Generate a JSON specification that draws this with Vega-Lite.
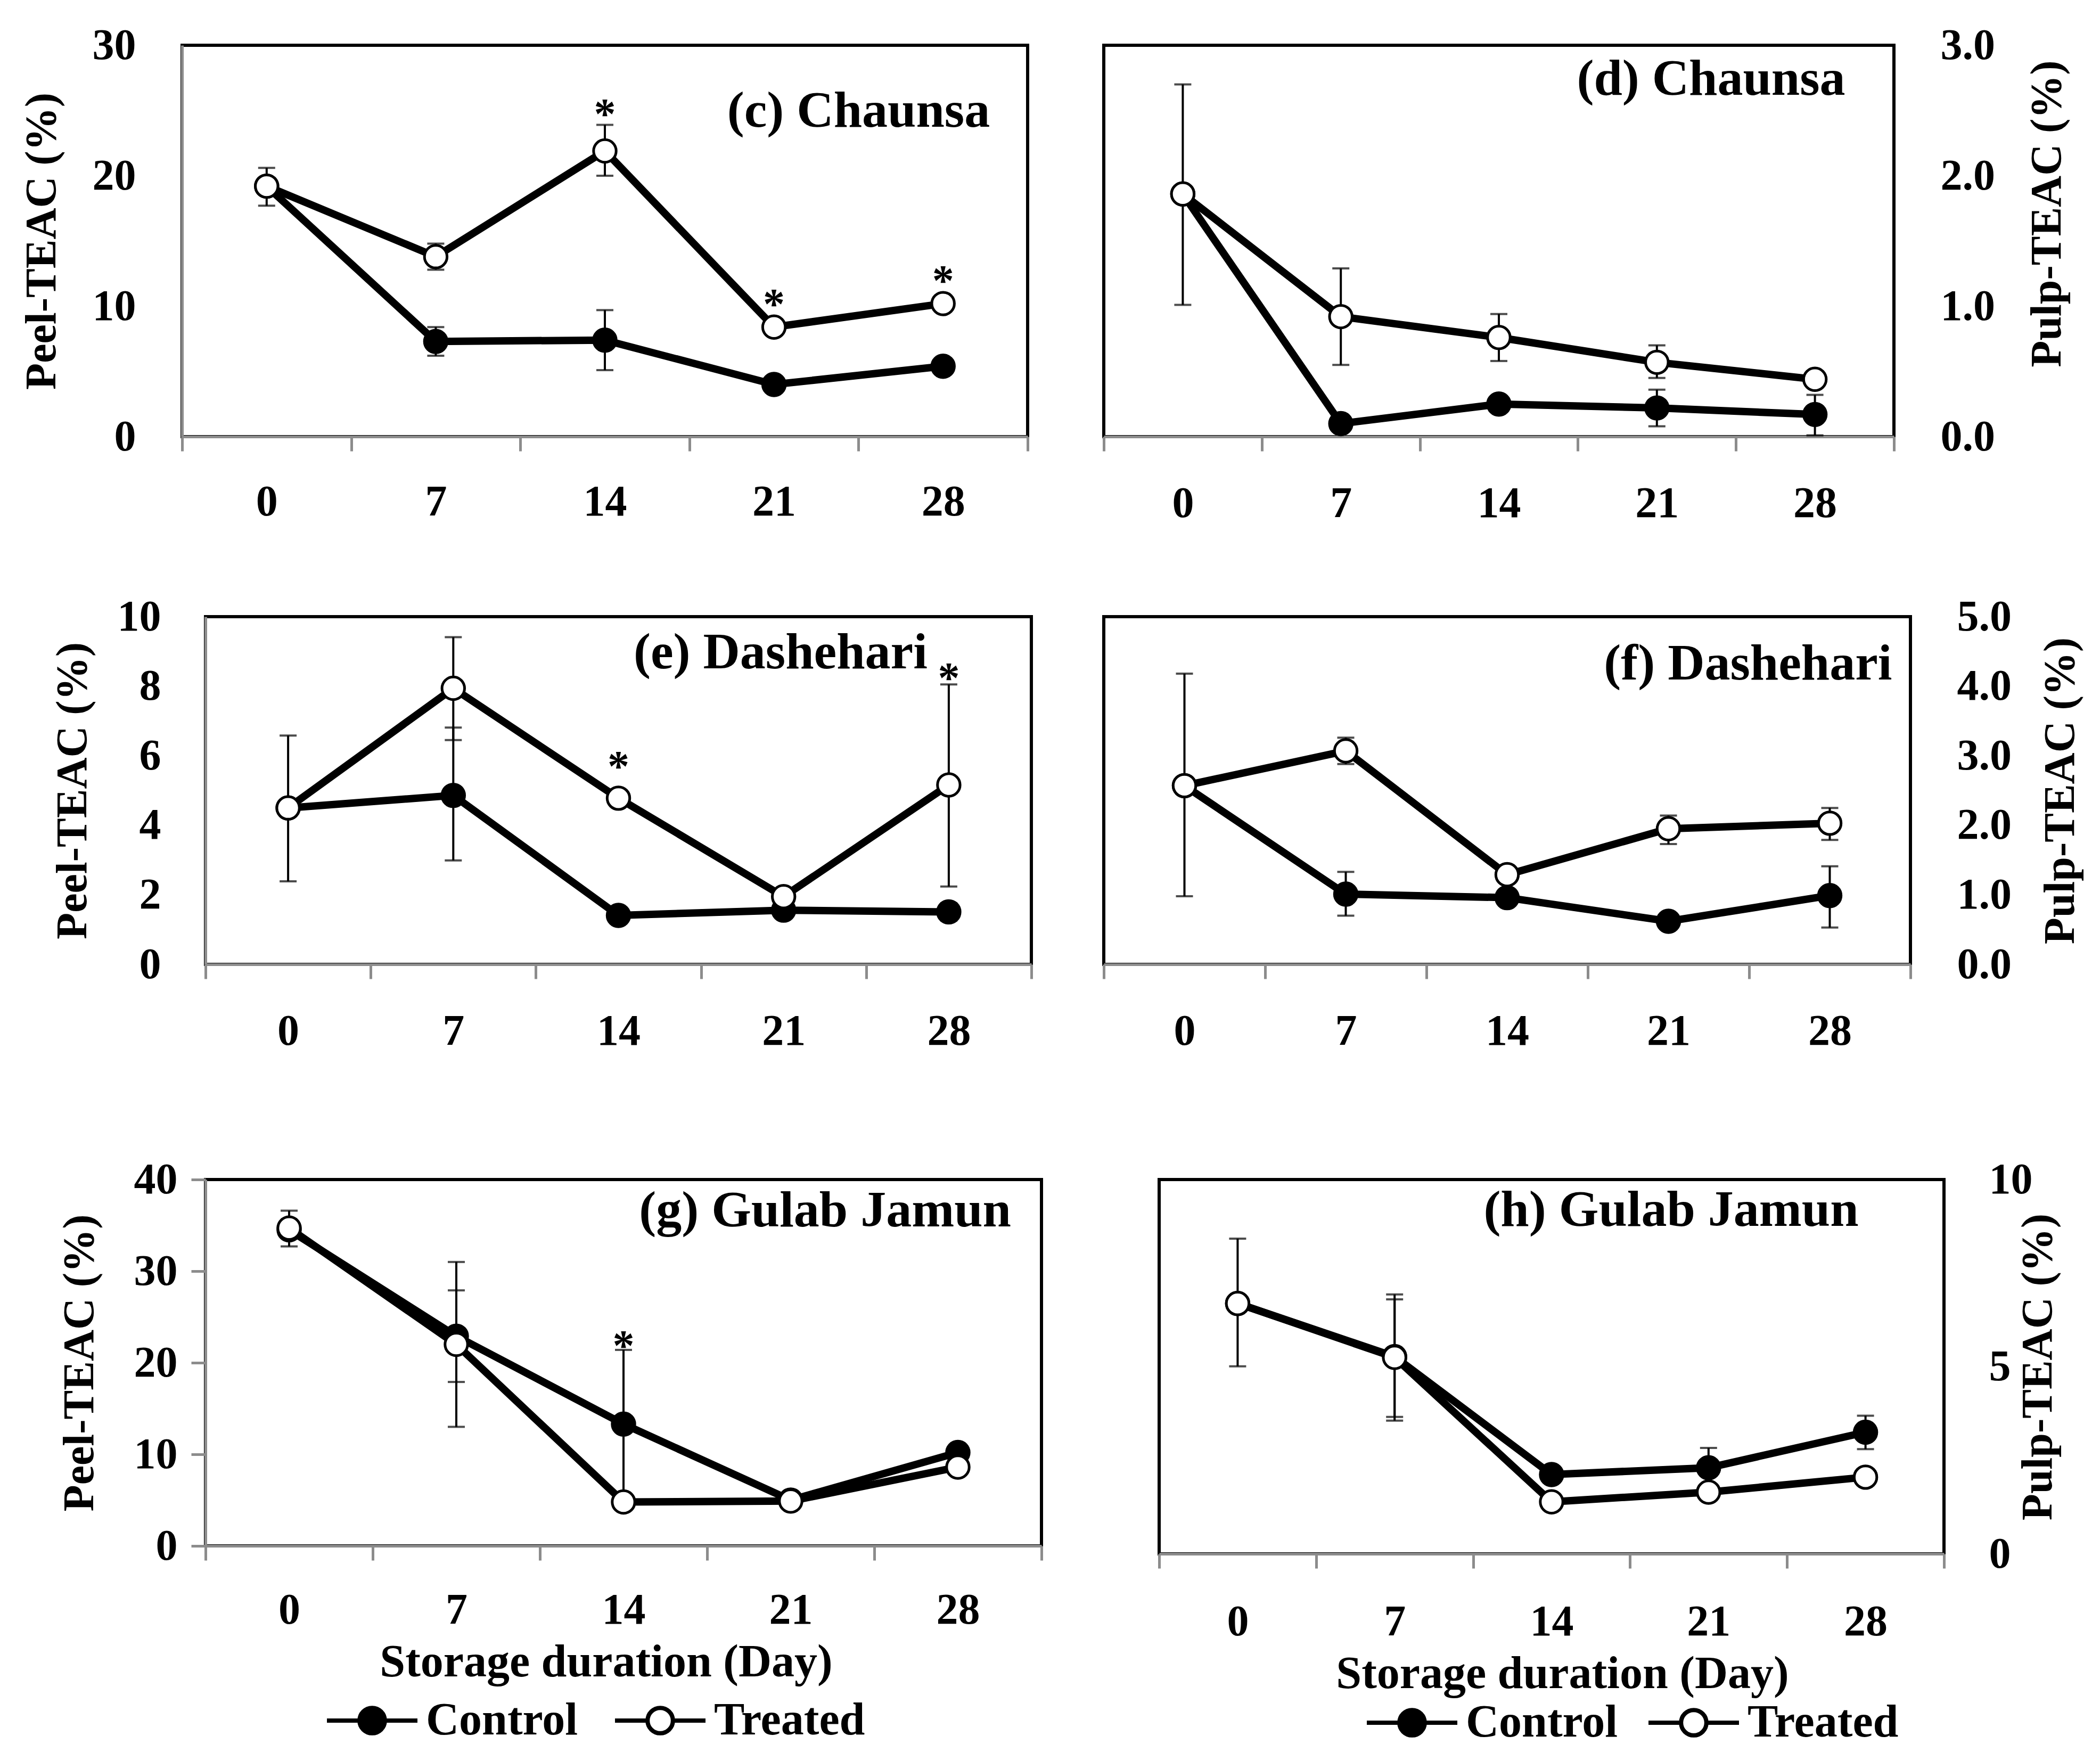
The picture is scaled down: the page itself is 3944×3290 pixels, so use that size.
{
  "$schema": "https://vega.github.io/schema/vega-lite/v6.json",
  "background": "white",
  "padding": 0,
  "datasets": {
    "teac": [
      {"panel": "c", "series": "Control", "day": 0, "v": 19.2},
      {"panel": "c", "series": "Control", "day": 7, "v": 7.3, "lo": 6.2, "hi": 8.4},
      {"panel": "c", "series": "Control", "day": 14, "v": 7.4, "lo": 5.1, "hi": 9.7},
      {"panel": "c", "series": "Control", "day": 21, "v": 4.0},
      {"panel": "c", "series": "Control", "day": 28, "v": 5.4},
      {"panel": "c", "series": "Treated", "day": 0, "v": 19.2, "lo": 17.7, "hi": 20.6},
      {"panel": "c", "series": "Treated", "day": 7, "v": 13.8, "lo": 12.8, "hi": 14.8},
      {"panel": "c", "series": "Treated", "day": 14, "v": 21.9, "lo": 20.0, "hi": 23.9},
      {"panel": "c", "series": "Treated", "day": 21, "v": 8.4},
      {"panel": "c", "series": "Treated", "day": 28, "v": 10.2},
      {"panel": "d", "series": "Control", "day": 0, "v": 1.86},
      {"panel": "d", "series": "Control", "day": 7, "v": 0.10},
      {"panel": "d", "series": "Control", "day": 14, "v": 0.25},
      {"panel": "d", "series": "Control", "day": 21, "v": 0.22, "lo": 0.08, "hi": 0.36},
      {"panel": "d", "series": "Control", "day": 28, "v": 0.17, "lo": 0.01, "hi": 0.32},
      {"panel": "d", "series": "Treated", "day": 0, "v": 1.86, "lo": 1.01, "hi": 2.70},
      {"panel": "d", "series": "Treated", "day": 7, "v": 0.92, "lo": 0.55, "hi": 1.29},
      {"panel": "d", "series": "Treated", "day": 14, "v": 0.76, "lo": 0.58, "hi": 0.94},
      {"panel": "d", "series": "Treated", "day": 21, "v": 0.57, "lo": 0.45, "hi": 0.70},
      {"panel": "d", "series": "Treated", "day": 28, "v": 0.44},
      {"panel": "e", "series": "Control", "day": 0, "v": 4.5},
      {"panel": "e", "series": "Control", "day": 7, "v": 4.86, "lo": 2.99, "hi": 6.81},
      {"panel": "e", "series": "Control", "day": 14, "v": 1.41},
      {"panel": "e", "series": "Control", "day": 21, "v": 1.56},
      {"panel": "e", "series": "Control", "day": 28, "v": 1.51, "lo": 1.26, "hi": 1.76},
      {"panel": "e", "series": "Treated", "day": 0, "v": 4.5, "lo": 2.39, "hi": 6.58},
      {"panel": "e", "series": "Treated", "day": 7, "v": 7.94, "lo": 6.45, "hi": 9.41},
      {"panel": "e", "series": "Treated", "day": 14, "v": 4.78},
      {"panel": "e", "series": "Treated", "day": 21, "v": 1.95},
      {"panel": "e", "series": "Treated", "day": 28, "v": 5.16, "lo": 2.24, "hi": 8.05},
      {"panel": "f", "series": "Control", "day": 0, "v": 2.57},
      {"panel": "f", "series": "Control", "day": 7, "v": 1.01, "lo": 0.70, "hi": 1.33},
      {"panel": "f", "series": "Control", "day": 14, "v": 0.96},
      {"panel": "f", "series": "Control", "day": 21, "v": 0.62},
      {"panel": "f", "series": "Control", "day": 28, "v": 0.99, "lo": 0.53, "hi": 1.41},
      {"panel": "f", "series": "Treated", "day": 0, "v": 2.57, "lo": 0.98, "hi": 4.18},
      {"panel": "f", "series": "Treated", "day": 7, "v": 3.07, "lo": 2.88, "hi": 3.26},
      {"panel": "f", "series": "Treated", "day": 14, "v": 1.29},
      {"panel": "f", "series": "Treated", "day": 21, "v": 1.95, "lo": 1.73, "hi": 2.14},
      {"panel": "f", "series": "Treated", "day": 28, "v": 2.03, "lo": 1.79, "hi": 2.25},
      {"panel": "g", "series": "Control", "day": 0, "v": 34.5},
      {"panel": "g", "series": "Control", "day": 7, "v": 22.9, "lo": 17.9, "hi": 27.9},
      {"panel": "g", "series": "Control", "day": 14, "v": 13.3, "lo": 5.2, "hi": 21.4},
      {"panel": "g", "series": "Control", "day": 21, "v": 5.0},
      {"panel": "g", "series": "Control", "day": 28, "v": 10.2},
      {"panel": "g", "series": "Treated", "day": 0, "v": 34.7, "lo": 32.7, "hi": 36.6},
      {"panel": "g", "series": "Treated", "day": 7, "v": 22.0, "lo": 13.0, "hi": 31.0},
      {"panel": "g", "series": "Treated", "day": 14, "v": 4.8},
      {"panel": "g", "series": "Treated", "day": 21, "v": 4.9},
      {"panel": "g", "series": "Treated", "day": 28, "v": 8.6},
      {"panel": "h", "series": "Control", "day": 0, "v": 6.69},
      {"panel": "h", "series": "Control", "day": 7, "v": 5.27, "lo": 3.66, "hi": 6.80},
      {"panel": "h", "series": "Control", "day": 14, "v": 2.12},
      {"panel": "h", "series": "Control", "day": 21, "v": 2.30, "lo": 1.80, "hi": 2.83},
      {"panel": "h", "series": "Control", "day": 28, "v": 3.25, "lo": 2.80, "hi": 3.69},
      {"panel": "h", "series": "Treated", "day": 0, "v": 6.69, "lo": 5.01, "hi": 8.42},
      {"panel": "h", "series": "Treated", "day": 7, "v": 5.25, "lo": 3.56, "hi": 6.93},
      {"panel": "h", "series": "Treated", "day": 14, "v": 1.39},
      {"panel": "h", "series": "Treated", "day": 21, "v": 1.65},
      {"panel": "h", "series": "Treated", "day": 28, "v": 2.05}
    ],
    "stars": [
      {"panel": "c", "day": 14, "y": 25.4},
      {"panel": "c", "day": 21, "y": 10.8},
      {"panel": "c", "day": 28, "y": 12.6},
      {"panel": "e", "day": 14, "y": 5.94},
      {"panel": "e", "day": 28, "y": 8.48},
      {"panel": "g", "day": 14, "y": 22.8}
    ],
    "labels": [
      {"panel": "c", "day": 28, "y": 23.75, "text": "(c) Chaunsa"},
      {"panel": "d", "day": 28, "y": 2.62, "text": "(d) Chaunsa"},
      {"panel": "e", "day": 28, "y": 8.51, "text": "(e) Dashehari"},
      {"panel": "f", "day": 28, "y": 4.10, "text": "(f) Dashehari"},
      {"panel": "g", "day": 28, "y": 34.9, "text": "(g) Gulab Jamun"},
      {"panel": "h", "day": 28, "y": 8.76, "text": "(h) Gulab Jamun"}
    ]
  },
  "spacing": 0,
  "resolve": {"scale": {"fill": "independent"}, "legend": {"fill": "independent"}},
  "vconcat": [
    {"width": 1, "height": 41, "data": {"values": []}, "mark": "point"},
    {
      "spacing": 143,
      "bounds": "flush",
      "resolve": {"scale": {"fill": "independent"}, "legend": {"fill": "independent"}},
      "hconcat": [
        {"width": 199, "height": 1, "data": {"values": []}, "mark": "point"},
        {
          "width": 1588, "height": 735,
          "view": {"stroke": "black", "strokeWidth": 6},
          "data": {"name": "teac"},
          "encoding": {"x": {"field": "day", "type": "ordinal", "scale": {"type": "band", "paddingInner": 0, "paddingOuter": 0}, "axis": {"title": null, "labelAngle": 0, "tickBand": "extent", "tickSize": 27, "labelPadding": 55}}},
          "layer": [
            {"transform": [{"filter": "datum.panel === 'c'"}], "mark": {"type": "line", "color": "black", "strokeWidth": 14}, "encoding": {"y": {"field": "v", "type": "quantitative", "title": "Peel-TEAC (%)", "scale": {"domain": [0, 30]}, "axis": {"title": "Peel-TEAC (%)", "values": [0, 10, 20, 30], "format": "d", "ticks": false, "tickSize": 0, "labelPadding": 87, "titlePadding": 53}}, "detail": {"field": "series"}}},
            {"transform": [{"filter": "datum.panel === 'c' && isValid(datum.lo)"}], "mark": {"type": "rule", "color": "black", "strokeWidth": 4}, "encoding": {"y": {"field": "lo", "type": "quantitative", "title": "Peel-TEAC (%)"}, "y2": {"field": "hi"}}},
            {"transform": [{"filter": "datum.panel === 'c' && isValid(datum.lo)"}], "mark": {"type": "tick", "color": "black", "thickness": 4, "size": 32}, "encoding": {"y": {"field": "lo", "type": "quantitative", "title": "Peel-TEAC (%)"}}},
            {"transform": [{"filter": "datum.panel === 'c' && isValid(datum.hi)"}], "mark": {"type": "tick", "color": "black", "thickness": 4, "size": 32}, "encoding": {"y": {"field": "hi", "type": "quantitative", "title": "Peel-TEAC (%)"}}},
            {"transform": [{"filter": "datum.panel === 'c'"}], "mark": {"type": "point", "shape": "circle", "filled": true, "size": 1800, "stroke": "black", "strokeWidth": 5, "opacity": 1}, "encoding": {"y": {"field": "v", "type": "quantitative", "title": "Peel-TEAC (%)"}, "fill": {"field": "series", "type": "nominal", "scale": {"domain": ["Control", "Treated"], "range": ["black", "white"]}, "legend": null}}},
            {"data": {"name": "stars"}, "transform": [{"filter": "datum.panel === 'c'"}], "mark": {"type": "text", "text": "*", "color": "black", "font": "Liberation Serif", "fontWeight": "bold", "fontSize": 82, "baseline": "middle", "dy": 18}, "encoding": {"y": {"field": "y", "type": "quantitative", "title": "Peel-TEAC (%)"}}},
            {"data": {"name": "labels"}, "transform": [{"filter": "datum.panel === 'c'"}], "mark": {"type": "text", "color": "black", "font": "Liberation Serif", "fontWeight": "bold", "fontSize": 96, "align": "right", "baseline": "alphabetic", "dx": 88}, "encoding": {"y": {"field": "y", "type": "quantitative", "title": "Peel-TEAC (%)"}, "text": {"field": "text"}}}
          ]
        },
        {
          "width": 1484, "height": 735,
          "view": {"stroke": "black", "strokeWidth": 6},
          "data": {"name": "teac"},
          "encoding": {"x": {"field": "day", "type": "ordinal", "scale": {"type": "band", "paddingInner": 0, "paddingOuter": 0}, "axis": {"title": null, "labelAngle": 0, "tickBand": "extent", "tickSize": 27, "labelPadding": 58}}},
          "layer": [
            {"transform": [{"filter": "datum.panel === 'd'"}], "mark": {"type": "line", "color": "black", "strokeWidth": 14}, "encoding": {"y": {"field": "v", "type": "quantitative", "title": "Pulp-TEAC (%)", "scale": {"domain": [0, 3]}, "axis": {"title": "Pulp-TEAC (%)", "orient": "right", "values": [0, 1, 2, 3], "format": ".1f", "domain": false, "ticks": false, "tickSize": 0, "labelPadding": 87, "titlePadding": 58, "titleAngle": 270, "titleBaseline": "top", "titleY": 316}}, "detail": {"field": "series"}}},
            {"transform": [{"filter": "datum.panel === 'd' && isValid(datum.lo)"}], "mark": {"type": "rule", "color": "black", "strokeWidth": 4}, "encoding": {"y": {"field": "lo", "type": "quantitative", "title": "Pulp-TEAC (%)"}, "y2": {"field": "hi"}}},
            {"transform": [{"filter": "datum.panel === 'd' && isValid(datum.lo)"}], "mark": {"type": "tick", "color": "black", "thickness": 4, "size": 32}, "encoding": {"y": {"field": "lo", "type": "quantitative", "title": "Pulp-TEAC (%)"}}},
            {"transform": [{"filter": "datum.panel === 'd' && isValid(datum.hi)"}], "mark": {"type": "tick", "color": "black", "thickness": 4, "size": 32}, "encoding": {"y": {"field": "hi", "type": "quantitative", "title": "Pulp-TEAC (%)"}}},
            {"transform": [{"filter": "datum.panel === 'd'"}], "mark": {"type": "point", "shape": "circle", "filled": true, "size": 1800, "stroke": "black", "strokeWidth": 5, "opacity": 1}, "encoding": {"y": {"field": "v", "type": "quantitative", "title": "Pulp-TEAC (%)"}, "fill": {"field": "series", "type": "nominal", "scale": {"domain": ["Control", "Treated"], "range": ["black", "white"]}, "legend": null}}},
            {"data": {"name": "labels"}, "transform": [{"filter": "datum.panel === 'd'"}], "mark": {"type": "text", "color": "black", "font": "Liberation Serif", "fontWeight": "bold", "fontSize": 96, "align": "right", "baseline": "alphabetic", "dx": 57}, "encoding": {"y": {"field": "y", "type": "quantitative", "title": "Pulp-TEAC (%)"}, "text": {"field": "text"}}}
          ]
        }
      ]
    },
    {"width": 1, "height": 125, "data": {"values": []}, "mark": "point"},
    {
      "spacing": 136,
      "bounds": "flush",
      "resolve": {"scale": {"fill": "independent"}, "legend": {"fill": "independent"}},
      "hconcat": [
        {"width": 250, "height": 1, "data": {"values": []}, "mark": "point"},
        {
          "width": 1551, "height": 653,
          "view": {"stroke": "black", "strokeWidth": 6},
          "data": {"name": "teac"},
          "encoding": {"x": {"field": "day", "type": "ordinal", "scale": {"type": "band", "paddingInner": 0, "paddingOuter": 0}, "axis": {"title": null, "labelAngle": 0, "tickBand": "extent", "tickSize": 27, "labelPadding": 58}}},
          "layer": [
            {"transform": [{"filter": "datum.panel === 'e'"}], "mark": {"type": "line", "color": "black", "strokeWidth": 14}, "encoding": {"y": {"field": "v", "type": "quantitative", "title": "Peel-TEAC (%)", "scale": {"domain": [0, 10]}, "axis": {"title": "Peel-TEAC (%)", "values": [0, 2, 4, 6, 8, 10], "format": "d", "ticks": false, "tickSize": 0, "labelPadding": 84, "titlePadding": 42}}, "detail": {"field": "series"}}},
            {"transform": [{"filter": "datum.panel === 'e' && isValid(datum.lo)"}], "mark": {"type": "rule", "color": "black", "strokeWidth": 4}, "encoding": {"y": {"field": "lo", "type": "quantitative", "title": "Peel-TEAC (%)"}, "y2": {"field": "hi"}}},
            {"transform": [{"filter": "datum.panel === 'e' && isValid(datum.lo)"}], "mark": {"type": "tick", "color": "black", "thickness": 4, "size": 32}, "encoding": {"y": {"field": "lo", "type": "quantitative", "title": "Peel-TEAC (%)"}}},
            {"transform": [{"filter": "datum.panel === 'e' && isValid(datum.hi)"}], "mark": {"type": "tick", "color": "black", "thickness": 4, "size": 32}, "encoding": {"y": {"field": "hi", "type": "quantitative", "title": "Peel-TEAC (%)"}}},
            {"transform": [{"filter": "datum.panel === 'e'"}], "mark": {"type": "point", "shape": "circle", "filled": true, "size": 1800, "stroke": "black", "strokeWidth": 5, "opacity": 1}, "encoding": {"y": {"field": "v", "type": "quantitative", "title": "Peel-TEAC (%)"}, "fill": {"field": "series", "type": "nominal", "scale": {"domain": ["Control", "Treated"], "range": ["black", "white"]}, "legend": null}}},
            {"data": {"name": "stars"}, "transform": [{"filter": "datum.panel === 'e'"}], "mark": {"type": "text", "text": "*", "color": "black", "font": "Liberation Serif", "fontWeight": "bold", "fontSize": 82, "baseline": "middle", "dy": 18}, "encoding": {"y": {"field": "y", "type": "quantitative", "title": "Peel-TEAC (%)"}}},
            {"data": {"name": "labels"}, "transform": [{"filter": "datum.panel === 'e'"}], "mark": {"type": "text", "color": "black", "font": "Liberation Serif", "fontWeight": "bold", "fontSize": 96, "align": "right", "baseline": "alphabetic", "dx": -40}, "encoding": {"y": {"field": "y", "type": "quantitative", "title": "Peel-TEAC (%)"}, "text": {"field": "text"}}}
          ]
        },
        {
          "width": 1515, "height": 653,
          "view": {"stroke": "black", "strokeWidth": 6},
          "data": {"name": "teac"},
          "encoding": {"x": {"field": "day", "type": "ordinal", "scale": {"type": "band", "paddingInner": 0, "paddingOuter": 0}, "axis": {"title": null, "labelAngle": 0, "tickBand": "extent", "tickSize": 27, "labelPadding": 58}}},
          "layer": [
            {"transform": [{"filter": "datum.panel === 'f'"}], "mark": {"type": "line", "color": "black", "strokeWidth": 14}, "encoding": {"y": {"field": "v", "type": "quantitative", "title": "Pulp-TEAC (%)", "scale": {"domain": [0, 5]}, "axis": {"title": "Pulp-TEAC (%)", "orient": "right", "values": [0, 1, 2, 3, 4, 5], "format": ".1f", "domain": false, "ticks": false, "tickSize": 0, "labelPadding": 87, "titlePadding": 52, "titleAngle": 270, "titleBaseline": "top"}}, "detail": {"field": "series"}}},
            {"transform": [{"filter": "datum.panel === 'f' && isValid(datum.lo)"}], "mark": {"type": "rule", "color": "black", "strokeWidth": 4}, "encoding": {"y": {"field": "lo", "type": "quantitative", "title": "Pulp-TEAC (%)"}, "y2": {"field": "hi"}}},
            {"transform": [{"filter": "datum.panel === 'f' && isValid(datum.lo)"}], "mark": {"type": "tick", "color": "black", "thickness": 4, "size": 32}, "encoding": {"y": {"field": "lo", "type": "quantitative", "title": "Pulp-TEAC (%)"}}},
            {"transform": [{"filter": "datum.panel === 'f' && isValid(datum.hi)"}], "mark": {"type": "tick", "color": "black", "thickness": 4, "size": 32}, "encoding": {"y": {"field": "hi", "type": "quantitative", "title": "Pulp-TEAC (%)"}}},
            {"transform": [{"filter": "datum.panel === 'f'"}], "mark": {"type": "point", "shape": "circle", "filled": true, "size": 1800, "stroke": "black", "strokeWidth": 5, "opacity": 1}, "encoding": {"y": {"field": "v", "type": "quantitative", "title": "Pulp-TEAC (%)"}, "fill": {"field": "series", "type": "nominal", "scale": {"domain": ["Control", "Treated"], "range": ["black", "white"]}, "legend": null}}},
            {"data": {"name": "labels"}, "transform": [{"filter": "datum.panel === 'f'"}], "mark": {"type": "text", "color": "black", "font": "Liberation Serif", "fontWeight": "bold", "fontSize": 96, "align": "right", "baseline": "alphabetic", "dx": 117}, "encoding": {"y": {"field": "y", "type": "quantitative", "title": "Pulp-TEAC (%)"}, "text": {"field": "text"}}}
          ]
        }
      ]
    },
    {"width": 1, "height": 191, "data": {"values": []}, "mark": "point"},
    {
      "spacing": 221,
      "bounds": "flush",
      "resolve": {"scale": {"fill": "independent"}, "legend": {"fill": "independent"}},
      "hconcat": [
        {"width": 165, "height": 1, "data": {"values": []}, "mark": "point"},
        {
          "width": 1570, "height": 688,
          "view": {"stroke": "black", "strokeWidth": 6},
          "data": {"name": "teac"},
          "encoding": {"x": {"field": "day", "type": "ordinal", "scale": {"type": "band", "paddingInner": 0, "paddingOuter": 0}, "axis": {"title": "Storage duration (Day)", "titleFontSize": 86, "titlePadding": 15, "titleX": 752, "labelAngle": 0, "tickBand": "extent", "tickSize": 27, "labelPadding": 53}}},
          "layer": [
            {"transform": [{"filter": "datum.panel === 'g'"}], "mark": {"type": "line", "color": "black", "strokeWidth": 14}, "encoding": {"y": {"field": "v", "type": "quantitative", "title": "Peel-TEAC (%)", "scale": {"domain": [0, 40]}, "axis": {"title": "Peel-TEAC (%)", "values": [0, 10, 20, 30, 40], "format": "d", "tickSize": 27, "labelPadding": 26, "titlePadding": 60}}, "detail": {"field": "series"}}},
            {"transform": [{"filter": "datum.panel === 'g' && isValid(datum.lo)"}], "mark": {"type": "rule", "color": "black", "strokeWidth": 4}, "encoding": {"y": {"field": "lo", "type": "quantitative", "title": "Peel-TEAC (%)"}, "y2": {"field": "hi"}}},
            {"transform": [{"filter": "datum.panel === 'g' && isValid(datum.lo)"}], "mark": {"type": "tick", "color": "black", "thickness": 4, "size": 32}, "encoding": {"y": {"field": "lo", "type": "quantitative", "title": "Peel-TEAC (%)"}}},
            {"transform": [{"filter": "datum.panel === 'g' && isValid(datum.hi)"}], "mark": {"type": "tick", "color": "black", "thickness": 4, "size": 32}, "encoding": {"y": {"field": "hi", "type": "quantitative", "title": "Peel-TEAC (%)"}}},
            {"transform": [{"filter": "datum.panel === 'g'"}], "mark": {"type": "point", "shape": "circle", "filled": true, "size": 1800, "stroke": "black", "strokeWidth": 5, "opacity": 1}, "encoding": {"y": {"field": "v", "type": "quantitative", "title": "Peel-TEAC (%)"}, "fill": {"field": "series", "type": "nominal", "scale": {"domain": ["Control", "Treated"], "range": ["black", "white"]}, "legend": {"orient": "none", "legendX": 224, "legendY": 927, "direction": "horizontal", "title": null, "padding": 0, "columnPadding": 53, "labelOffset": 12, "labelLimit": 2000, "symbolSize": 28900, "symbolType": "M-1,0H-0.28M0.28,0H1M0.28,0A0.28,0.28,0,1,1,-0.28,0A0.28,0.28,0,1,1,0.28,0Z", "symbolStrokeColor": "black", "symbolStrokeWidth": 8, "symbolOpacity": 1, "labelFont": "Liberation Serif", "labelFontWeight": "bold", "labelFontSize": 86, "labelColor": "black"}}}},
            {"data": {"name": "stars"}, "transform": [{"filter": "datum.panel === 'g'"}], "mark": {"type": "text", "text": "*", "color": "black", "font": "Liberation Serif", "fontWeight": "bold", "fontSize": 82, "baseline": "middle", "dy": 18}, "encoding": {"y": {"field": "y", "type": "quantitative", "title": "Peel-TEAC (%)"}}},
            {"data": {"name": "labels"}, "transform": [{"filter": "datum.panel === 'g'"}], "mark": {"type": "text", "color": "black", "font": "Liberation Serif", "fontWeight": "bold", "fontSize": 96, "align": "right", "baseline": "alphabetic", "dx": 100}, "encoding": {"y": {"field": "y", "type": "quantitative", "title": "Peel-TEAC (%)"}, "text": {"field": "text"}}}
          ]
        },
        {
          "width": 1474, "height": 703,
          "view": {"stroke": "black", "strokeWidth": 6},
          "data": {"name": "teac"},
          "encoding": {"x": {"field": "day", "type": "ordinal", "scale": {"type": "band", "paddingInner": 0, "paddingOuter": 0}, "axis": {"title": "Storage duration (Day)", "titleFontSize": 86, "titlePadding": 15, "titleX": 757, "labelAngle": 0, "tickBand": "extent", "tickSize": 27, "labelPadding": 60}}},
          "layer": [
            {"transform": [{"filter": "datum.panel === 'h'"}], "mark": {"type": "line", "color": "black", "strokeWidth": 14}, "encoding": {"y": {"field": "v", "type": "quantitative", "title": "Pulp-TEAC (%)", "scale": {"domain": [0, 10]}, "axis": {"title": "Pulp-TEAC (%)", "orient": "right", "values": [0, 5, 10], "format": "d", "domain": false, "ticks": false, "tickSize": 0, "labelPadding": 84, "titlePadding": -30, "titleAngle": 270, "titleBaseline": "top"}}, "detail": {"field": "series"}}},
            {"transform": [{"filter": "datum.panel === 'h' && isValid(datum.lo)"}], "mark": {"type": "rule", "color": "black", "strokeWidth": 4}, "encoding": {"y": {"field": "lo", "type": "quantitative", "title": "Pulp-TEAC (%)"}, "y2": {"field": "hi"}}},
            {"transform": [{"filter": "datum.panel === 'h' && isValid(datum.lo)"}], "mark": {"type": "tick", "color": "black", "thickness": 4, "size": 32}, "encoding": {"y": {"field": "lo", "type": "quantitative", "title": "Pulp-TEAC (%)"}}},
            {"transform": [{"filter": "datum.panel === 'h' && isValid(datum.hi)"}], "mark": {"type": "tick", "color": "black", "thickness": 4, "size": 32}, "encoding": {"y": {"field": "hi", "type": "quantitative", "title": "Pulp-TEAC (%)"}}},
            {"transform": [{"filter": "datum.panel === 'h'"}], "mark": {"type": "point", "shape": "circle", "filled": true, "size": 1800, "stroke": "black", "strokeWidth": 5, "opacity": 1}, "encoding": {"y": {"field": "v", "type": "quantitative", "title": "Pulp-TEAC (%)"}, "fill": {"field": "series", "type": "nominal", "scale": {"domain": ["Control", "Treated"], "range": ["black", "white"]}, "legend": {"orient": "none", "legendX": 386, "legendY": 931, "direction": "horizontal", "title": null, "padding": 0, "columnPadding": 41, "labelOffset": 12, "labelLimit": 2000, "symbolSize": 28900, "symbolType": "M-1,0H-0.28M0.28,0H1M0.28,0A0.28,0.28,0,1,1,-0.28,0A0.28,0.28,0,1,1,0.28,0Z", "symbolStrokeColor": "black", "symbolStrokeWidth": 8, "symbolOpacity": 1, "labelFont": "Liberation Serif", "labelFontWeight": "bold", "labelFontSize": 86, "labelColor": "black"}}}},
            {"data": {"name": "labels"}, "transform": [{"filter": "datum.panel === 'h'"}], "mark": {"type": "text", "color": "black", "font": "Liberation Serif", "fontWeight": "bold", "fontSize": 96, "align": "right", "baseline": "alphabetic", "dx": -13}, "encoding": {"y": {"field": "y", "type": "quantitative", "title": "Pulp-TEAC (%)"}, "text": {"field": "text"}}}
          ]
        }
      ]
    }
  ],
  "config": {
    "font": "Liberation Serif",
    "view": {"stroke": null},
    "axis": {
      "labelFont": "Liberation Serif",
      "labelFontWeight": "bold",
      "labelFontSize": 82,
      "labelColor": "black",
      "titleFont": "Liberation Serif",
      "titleFontWeight": "bold",
      "titleFontSize": 82,
      "titleColor": "black",
      "domainColor": "#8c8c8c",
      "domainWidth": 5,
      "tickColor": "#8c8c8c",
      "tickWidth": 5,
      "grid": false
    }
  }
}
